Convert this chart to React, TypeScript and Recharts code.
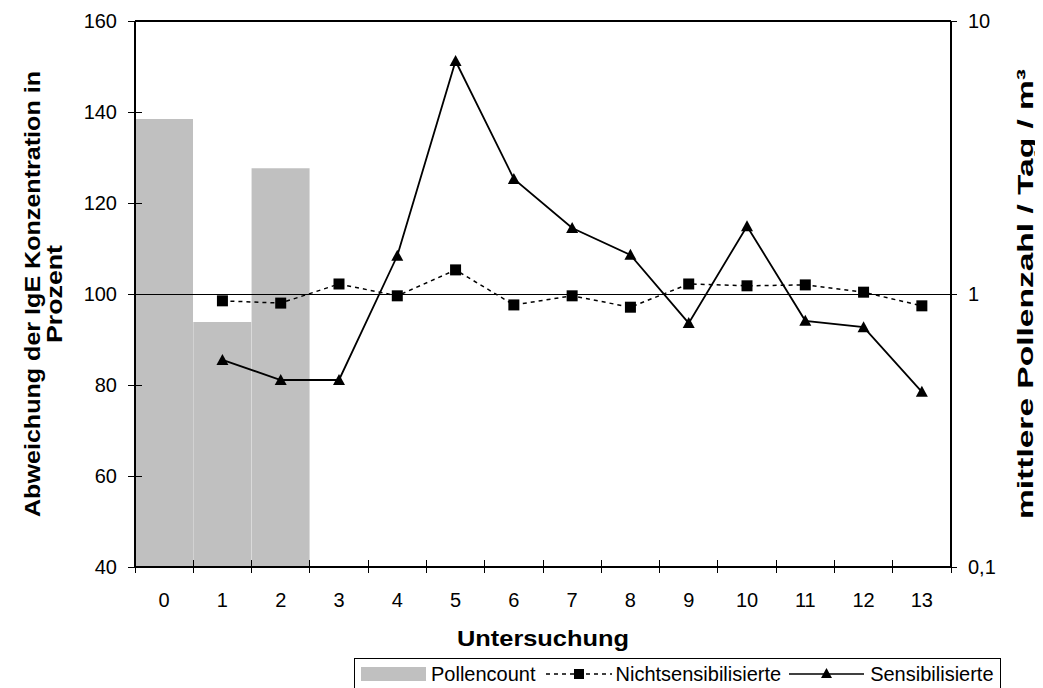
import React from 'react';
import {
  ComposedChart,
  Bar,
  Line,
  XAxis,
  YAxis,
  ReferenceLine,
  Legend,
} from 'recharts';

const categories = ['0', '1', '2', '3', '4', '5', '6', '7', '8', '9', '10', '11', '12', '13'];
const pollencount = [4.38, 0.79, 2.89, null, null, null, null, null, null, null, null, null, null, null];
const nichtsensibilisierte = [null, 98.5, 98.0, 102.2, 99.6, 105.3, 97.6, 99.6, 97.1, 102.2, 101.8, 102.0, 100.4, 97.4];
const sensibilisierte = [null, 85.5, 81.1, 81.1, 108.4, 151.2, 125.3, 114.5, 108.6, 93.6, 114.9, 94.1, 92.7, 78.5];
const leftTicks = [40, 60, 80, 100, 120, 140, 160];
const rightTicks = [0.1, 1, 10];
const rightTickLabels = ['0,1', '1', '10'];

const data = categories.map((c, i) => ({
  cat: c,
  pollen: pollencount[i],
  nicht: nichtsensibilisierte[i],
  sens: sensibilisierte[i],
}));

const FONT = '"Liberation Sans", Arial, sans-serif';

const XTick = (props: any) => {
  const { x, y, payload, index } = props;
  const off = payload && typeof payload.offset === 'number' && payload.offset > 0 ? payload.offset : 29.14;
  return (
    <g>
      <line x1={x - off} x2={x - off} y1={y - 7} y2={y + 6} stroke="#000" strokeWidth={1} shapeRendering="crispEdges" />
      {index === categories.length - 1 && (
        <line x1={x + off} x2={x + off} y1={y - 7} y2={y + 6} stroke="#000" strokeWidth={1} shapeRendering="crispEdges" />
      )}
      <text x={x} y={y + 40} textAnchor="middle" fontSize={20} fontFamily={FONT} fill="#000">
        {payload.value}
      </text>
    </g>
  );
};

const LeftTick = (props: any) => {
  const { x, y, payload } = props;
  return (
    <g>
      <line x1={x - 7} x2={x + 7} y1={y} y2={y} stroke="#000" strokeWidth={1} shapeRendering="crispEdges" />
      <text x={x - 18} y={y + 7} textAnchor="end" fontSize={20} fontFamily={FONT} fill="#000">
        {payload.value}
      </text>
    </g>
  );
};

const RightTick = (props: any) => {
  const { x, y, payload } = props;
  const idx = rightTicks.indexOf(payload.value);
  const label = idx >= 0 ? rightTickLabels[idx] : String(payload.value);
  return (
    <g>
      <line x1={x - 6} x2={x + 6} y1={y} y2={y} stroke="#000" strokeWidth={1} shapeRendering="crispEdges" />
      <text x={x + 17} y={y + 7} textAnchor="start" fontSize={20} fontFamily={FONT} fill="#000">
        {label}
      </text>
    </g>
  );
};

const SquareDot = (props: any) => {
  const { cx, cy, index } = props;
  if (cx == null || cy == null) return <g key={`sq-${index}`} />;
  return <rect key={`sq-${index}`} x={cx - 5.5} y={cy - 5.5} width={11} height={11} fill="#000" />;
};

const TriangleDot = (props: any) => {
  const { cx, cy, index } = props;
  if (cx == null || cy == null) return <g key={`tr-${index}`} />;
  return (
    <polygon
      key={`tr-${index}`}
      points={`${cx},${cy - 6} ${cx + 6},${cy + 5} ${cx - 6},${cy + 5}`}
      fill="#000"
    />
  );
};

const titleStyle = { fontFamily: FONT, fontWeight: 700, fontSize: 22 } as const;

const LeftTitle = (props: any) => {
  const vb = props.viewBox || { x: 0, y: 13, width: 127, height: 546 };
  const cy = vb.y + vb.height / 2;
  const x1 = vb.x + 24;
  const x2 = vb.x + 46;
  return (
    <g>
      <text
        x={x1}
        y={cy}
        transform={`rotate(-90, ${x1}, ${cy})`}
        textAnchor="middle"
        dominantBaseline="central"
        fill="#000"
        style={titleStyle}
        textLength={446}
        lengthAdjust="spacingAndGlyphs"
      >
        Abweichung der IgE Konzentration in
      </text>
      <text
        x={x2}
        y={cy}
        transform={`rotate(-90, ${x2}, ${cy})`}
        textAnchor="middle"
        dominantBaseline="central"
        fill="#000"
        style={titleStyle}
        textLength={98}
        lengthAdjust="spacingAndGlyphs"
      >
        Prozent
      </text>
    </g>
  );
};

const RightTitle = (props: any) => {
  const vb = props.viewBox || { x: 943, y: 13, width: 92, height: 546 };
  const cy = vb.y + vb.height / 2;
  const x1 = vb.x + 74;
  return (
    <text
      x={x1}
      y={cy}
      transform={`rotate(-90, ${x1}, ${cy})`}
      textAnchor="middle"
      dominantBaseline="central"
      fill="#000"
      style={titleStyle}
      textLength={450}
      lengthAdjust="spacingAndGlyphs"
    >
      mittlere Pollenzahl / Tag / m³
    </text>
  );
};

const BottomTitle = (props: any) => {
  const vb = props.viewBox || { x: 127, y: 559, width: 816, height: 80 };
  return (
    <text
      x={vb.x + vb.width / 2}
      y={vb.y + 79}
      textAnchor="middle"
      fill="#000"
      style={titleStyle}
      textLength={172}
      lengthAdjust="spacingAndGlyphs"
    >
      Untersuchung
    </text>
  );
};

const LegendContent = () => (
  <div
    style={{
      border: '1px solid #000',
      background: '#fff',
      display: 'flex',
      alignItems: 'center',
      height: 30,
      padding: '0 6px',
      fontFamily: FONT,
      fontSize: 20,
      whiteSpace: 'nowrap',
      color: '#000',
    }}
  >
    <span style={{ display: 'inline-block', width: 65, height: 14, background: '#C0C0C0', marginRight: 5 }} />
    <span>Pollencount</span>
    <svg width={70} height={20} style={{ marginLeft: 8, marginRight: 2 }}>
      <line x1={2} x2={68} y1={10} y2={10} stroke="#000" strokeWidth={1.5} strokeDasharray="4 4" />
      <rect x={30} y={5} width={10} height={10} fill="#000" />
    </svg>
    <span>Nichtsensibilisierte</span>
    <svg width={75} height={20} style={{ marginLeft: 8, marginRight: 6 }}>
      <line x1={0} x2={75} y1={10} y2={10} stroke="#000" strokeWidth={1.5} />
      <polygon points="37.5,4 43,14 32,14" fill="#000" />
    </svg>
    <span>Sensibilisierte</span>
  </div>
);

export default function App() {
  return (
    <div style={{ width: 1035, height: 680 }}>
      <ComposedChart
        width={1035}
        height={680}
        data={data}
        margin={{ top: 13, right: 0, bottom: 41, left: 0 }}
        barCategoryGap={0}
        barGap={0}
      >
        <XAxis
          dataKey="cat"
          xAxisId="main"
          height={80}
          interval={0}
          tickSize={0}
          tickMargin={0}
          tickLine={false}
          axisLine={{ stroke: '#000', strokeWidth: 2 }}
          tick={<XTick />}
          label={{ content: (p: any) => <BottomTitle {...p} /> }}
        />
        <YAxis
          yAxisId="left"
          orientation="left"
          width={127}
          domain={[40, 160]}
          ticks={leftTicks}
          interval={0}
          tickSize={0}
          tickMargin={0}
          tickLine={false}
          axisLine={{ stroke: '#000', strokeWidth: 2 }}
          tick={<LeftTick />}
          label={{ content: (p: any) => <LeftTitle {...p} /> }}
        />
        <YAxis
          yAxisId="right"
          orientation="right"
          width={92}
          type="number"
          scale="log"
          domain={[0.1, 10]}
          ticks={rightTicks}
          allowDataOverflow
          interval={0}
          tickSize={0}
          tickMargin={0}
          tickLine={false}
          axisLine={{ stroke: '#000', strokeWidth: 2 }}
          tick={<RightTick />}
          label={{ content: (p: any) => <RightTitle {...p} /> }}
        />
        <Bar
          dataKey="pollen"
          xAxisId="main"
          yAxisId="right"
          fill="#C0C0C0"
          isAnimationActive={false}
          name="Pollencount"
        />
        <ReferenceLine y={100} yAxisId="left" xAxisId="main" stroke="#000" strokeWidth={1} shapeRendering="crispEdges" />
        <ReferenceLine y={160} yAxisId="left" xAxisId="main" stroke="#000" strokeWidth={2} />
        <Line
          dataKey="nicht"
          xAxisId="main"
          yAxisId="left"
          stroke="#000"
          strokeWidth={1.5}
          strokeDasharray="4 4"
          dot={<SquareDot />}
          activeDot={false}
          isAnimationActive={false}
          name="Nichtsensibilisierte"
        />
        <Line
          dataKey="sens"
          xAxisId="main"
          yAxisId="left"
          stroke="#000"
          strokeWidth={1.8}
          dot={<TriangleDot />}
          activeDot={false}
          isAnimationActive={false}
          name="Sensibilisierte"
        />
        <Legend
          layout="horizontal"
          verticalAlign="middle"
          align="center"
          wrapperStyle={{ left: 346, top: 650, width: 'auto' }}
          content={<LegendContent />}
        />
      </ComposedChart>
    </div>
  );
}
